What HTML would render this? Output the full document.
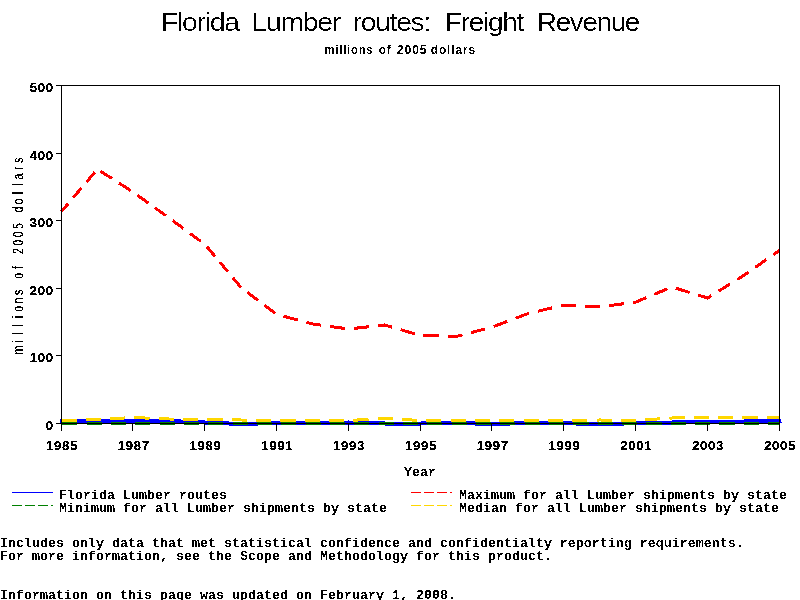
<!DOCTYPE html>
<html><head><meta charset="utf-8"><title>Florida Lumber routes: Freight Revenue</title>
<style>
html,body{margin:0;padding:0;background:#fff;width:800px;height:600px;overflow:hidden}
svg{display:block}
.mono{font-family:"Liberation Mono",monospace;font-size:13.333px;font-weight:bold;fill:#000}
.num{font-family:"Liberation Sans",sans-serif;font-size:13.1px;font-weight:bold;letter-spacing:0.72px;fill:#000;stroke:#000;stroke-width:0.2px}
.monor{font-family:"Liberation Mono",monospace;font-size:13.333px;fill:#000}
</style></head><body>
<svg width="800" height="600" viewBox="0 0 800 600">
<defs><filter id="crisp6" x="0" y="0" width="100%" height="100%" filterUnits="userSpaceOnUse"><feComponentTransfer><feFuncA type="discrete" tableValues="0 0 0 1 1 1"/></feComponentTransfer></filter><filter id="crisp7" x="0" y="0" width="100%" height="100%" filterUnits="userSpaceOnUse"><feComponentTransfer><feFuncA type="discrete" tableValues="0 0 0 1 1"/></feComponentTransfer></filter><filter id="crisp2" x="0" y="0" width="100%" height="100%" filterUnits="userSpaceOnUse"><feComponentTransfer><feFuncA type="discrete" tableValues="0 1 1"/></feComponentTransfer></filter><filter id="crisp" x="0" y="0" width="100%" height="100%" filterUnits="userSpaceOnUse"><feComponentTransfer><feFuncA type="discrete" tableValues="0 1"/></feComponentTransfer></filter></defs>
<rect width="800" height="600" fill="#fff"/>
<g filter="url(#crisp7)">
<text x="161.0" y="31" font-family="Liberation Sans, sans-serif" font-size="26.6" letter-spacing="-1.2" textLength="77.8" lengthAdjust="spacingAndGlyphs" fill="#000">Florida</text>
<text x="251.6" y="31" font-family="Liberation Sans, sans-serif" font-size="26.6" letter-spacing="-1.2" textLength="88.4" lengthAdjust="spacingAndGlyphs" fill="#000">Lumber</text>
<text x="352.6" y="31" font-family="Liberation Sans, sans-serif" font-size="26.6" letter-spacing="-1.2" textLength="77.4" lengthAdjust="spacingAndGlyphs" fill="#000">routes:</text>
<text x="445.0" y="31" font-family="Liberation Sans, sans-serif" font-size="26.6" letter-spacing="-1.2" textLength="78.0" lengthAdjust="spacingAndGlyphs" fill="#000">Freight</text>
<text x="537.0" y="31" font-family="Liberation Sans, sans-serif" font-size="26.6" letter-spacing="-1.2" textLength="102.0" lengthAdjust="spacingAndGlyphs" fill="#000">Revenue</text>
</g><g filter="url(#crisp)">
<text x="324.6" y="54" font-family="Liberation Sans, sans-serif" font-weight="bold" font-size="12" letter-spacing="0.9" textLength="48.7" lengthAdjust="spacingAndGlyphs" fill="#000">millions</text>
<text x="378.7" y="54" font-family="Liberation Sans, sans-serif" font-weight="bold" font-size="12" letter-spacing="0.9" textLength="12.7" lengthAdjust="spacingAndGlyphs" fill="#000">of</text>
<text x="396.8" y="54" font-family="Liberation Sans, sans-serif" font-weight="bold" font-size="12" letter-spacing="0.9" textLength="30.7" lengthAdjust="spacingAndGlyphs" fill="#000">2005</text>
<text x="430.8" y="54" font-family="Liberation Sans, sans-serif" font-weight="bold" font-size="12" letter-spacing="0.9" textLength="45.1" lengthAdjust="spacingAndGlyphs" fill="#000">dollars</text>
</g><g filter="url(#crisp2)">
<text font-family="Liberation Sans, sans-serif" font-size="14.5" fill="#000" text-anchor="middle" transform="translate(22.5,354) rotate(-90) scale(0.73,1)" x="5.21 16.53 27.86 39.19 50.52 61.85 73.18 84.51 95.84 107.16 118.49 129.82 141.15 152.48 163.81 175.14 186.47 197.79 209.12 220.45 231.78 243.11 254.44 265.77" y="0">millions of 2005 dollars</text>
</g>
<g shape-rendering="crispEdges" fill="none" stroke-width="3" stroke-linejoin="miter">
<path stroke="#0000ff" stroke-width="4" stroke-linecap="square" d="M61.50 421.00 L97.40 421.00 L133.30 421.50 L169.20 421.00 L205.10 422.50 L241.00 424.00 L276.90 423.00 L312.80 423.00 L348.70 422.50 L384.60 423.50 L420.50 423.50 L456.40 423.00 L492.30 424.00 L528.20 423.00 L564.10 423.00 L600.00 424.50 L635.90 423.00 L671.80 422.50 L707.70 422.00 L743.60 421.50 L779.50 421.00"/>
<path stroke="#008000" d="M62.20 423.50 L77.37 423.50M86.54 423.50 L97.40 423.50 L101.71 423.50M110.88 423.50 L126.05 423.50M135.22 423.50 L150.39 423.50M159.56 423.50 L169.20 423.50 L174.73 423.50M183.90 423.50 L199.07 423.50M208.24 423.50 L223.41 423.50M232.58 423.50 L241.00 423.50 L247.75 423.50M256.92 423.50 L272.09 423.50M281.26 423.50 L296.43 423.50M305.60 423.50 L312.80 423.50 L320.77 423.50M329.94 423.50 L345.11 423.50M354.28 423.50 L369.45 423.50M378.62 423.50 L384.60 423.50 L393.79 423.50M402.96 423.50 L418.13 423.50M427.30 423.50 L442.47 423.50M451.64 423.50 L456.40 423.50 L466.81 423.50M475.98 423.50 L491.15 423.50M500.32 423.50 L515.49 423.50M524.66 423.50 L528.20 423.50 L539.83 423.50M549.00 423.50 L564.10 423.50 L564.17 423.50M573.34 423.50 L588.51 423.50M597.68 423.50 L600.00 423.50 L612.85 423.50M622.02 423.50 L635.90 423.50 L637.19 423.50M646.36 423.50 L661.53 423.50M670.70 423.50 L671.80 423.50 L685.87 423.50M695.04 423.50 L707.70 423.50 L710.21 423.50M719.38 423.50 L734.55 423.50M743.72 423.50 L758.89 423.50M768.06 423.50 L779.50 423.50"/>
<path stroke="#ff0000" d="M61.50 211.50 L68.35 203.43M73.30 197.60 L81.51 187.92M86.46 182.09 L94.67 172.42M100.52 171.20 L112.06 178.63M119.02 183.11 L130.56 190.54M137.33 195.18 L148.34 203.07M154.98 207.82 L165.99 215.71M172.58 220.50 L183.44 228.51M189.98 233.34 L200.83 241.35M206.80 246.54 L214.92 256.26M219.81 262.12 L227.92 271.84M232.81 277.69 L240.93 287.42M247.39 292.30 L258.14 300.39M264.63 305.27 L275.38 313.36M283.49 316.24 L297.75 320.02M306.35 322.29 L312.80 324.00 L320.94 325.13M329.89 326.38 L344.75 328.45M353.73 328.44 L368.67 326.77M377.68 325.77 L384.60 325.00 L392.17 327.21M400.66 329.70 L414.76 333.82M423.46 335.58 L438.55 336.00M447.64 336.26 L456.40 336.50 L462.38 334.92M470.98 332.64 L485.25 328.87M493.77 326.45 L507.31 321.35M515.48 318.28 L528.20 313.50 L529.08 313.29M537.77 311.23 L552.19 307.82M560.88 305.76 L564.10 305.00 L575.80 305.65M584.88 306.16 L599.94 307.00M608.89 305.76 L623.74 303.69M632.70 302.45 L635.90 302.00 L646.29 297.66M654.27 294.32 L667.52 288.79M675.71 288.20 L689.73 292.49M698.17 295.08 L707.70 298.00 L711.44 295.66M718.47 291.25 L730.14 283.94M737.17 279.53 L743.60 275.50 L748.61 272.01M755.33 267.33 L766.49 259.56M773.21 254.88 L779.50 250.50"/>
<path stroke="#ffd700" d="M61.50 420.50 L76.66 420.08M85.82 419.82 L97.40 419.50 L100.98 419.30M110.12 418.79 L125.25 417.95M134.40 417.55 L149.55 418.18M158.70 418.56 L169.20 419.00 L173.86 419.06M183.02 419.19 L198.19 419.40M207.36 419.53 L222.53 419.74M231.70 419.87 L241.00 420.00 L246.86 420.08M256.03 420.21 L271.20 420.42M280.37 420.50 L295.54 420.50M304.71 420.50 L312.80 420.50 L319.88 420.50M329.05 420.50 L344.22 420.50M353.38 420.24 L368.51 419.40M377.65 418.89 L384.60 418.50 L392.78 418.96M401.93 419.47 L417.06 420.31M426.22 420.50 L441.39 420.50M450.56 420.50 L456.40 420.50 L465.73 420.37M474.89 420.24 L490.06 420.03M499.23 420.10 L514.40 420.31M523.57 420.44 L528.20 420.50 L538.74 420.50M547.91 420.50 L563.08 420.50M572.24 420.39 L587.41 420.18M596.58 420.05 L600.00 420.00 L611.75 420.16M620.92 420.29 L635.90 420.50 L636.08 420.49M645.22 419.85 L660.32 418.80M669.45 418.16 L671.80 418.00 L684.61 417.82M693.78 417.69 L707.70 417.50 L708.95 417.50M718.12 417.50 L733.29 417.50M742.46 417.50 L743.60 417.50 L757.63 417.50M766.80 417.50 L779.50 417.50"/>
</g>
<g stroke="#000" stroke-width="1" fill="none" shape-rendering="crispEdges">
<rect x="61.5" y="85.5" width="718" height="338"/>
<line x1="56" y1="423.5" x2="61" y2="423.5"/>
<line x1="56" y1="355.5" x2="61" y2="355.5"/>
<line x1="56" y1="288.5" x2="61" y2="288.5"/>
<line x1="56" y1="220.5" x2="61" y2="220.5"/>
<line x1="56" y1="153.5" x2="61" y2="153.5"/>
<line x1="56" y1="85.5" x2="61" y2="85.5"/>
<line x1="61.5" y1="423" x2="61.5" y2="431"/>
<line x1="132.5" y1="423" x2="132.5" y2="431"/>
<line x1="204.5" y1="423" x2="204.5" y2="431"/>
<line x1="276.5" y1="423" x2="276.5" y2="431"/>
<line x1="348.5" y1="423" x2="348.5" y2="431"/>
<line x1="420.5" y1="423" x2="420.5" y2="431"/>
<line x1="491.5" y1="423" x2="491.5" y2="431"/>
<line x1="563.5" y1="423" x2="563.5" y2="431"/>
<line x1="635.5" y1="423" x2="635.5" y2="431"/>
<line x1="707.5" y1="423" x2="707.5" y2="431"/>
<line x1="779.5" y1="423" x2="779.5" y2="431"/>
</g>
<g filter="url(#crisp)">
<text class="num" x="53.7" y="430" text-anchor="end">0</text>
<text class="num" x="53.7" y="362" text-anchor="end">100</text>
<text class="num" x="53.7" y="295" text-anchor="end">200</text>
<text class="num" x="53.7" y="227" text-anchor="end">300</text>
<text class="num" x="53.7" y="160" text-anchor="end">400</text>
<text class="num" x="53.7" y="92" text-anchor="end">500</text>
<text class="num" x="61.9" y="450" text-anchor="middle">1985</text>
<text class="num" x="133.7" y="450" text-anchor="middle">1987</text>
<text class="num" x="205.5" y="450" text-anchor="middle">1989</text>
<text class="num" x="277.3" y="450" text-anchor="middle">1991</text>
<text class="num" x="349.1" y="450" text-anchor="middle">1993</text>
<text class="num" x="420.9" y="450" text-anchor="middle">1995</text>
<text class="num" x="492.7" y="450" text-anchor="middle">1997</text>
<text class="num" x="564.5" y="450" text-anchor="middle">1999</text>
<text class="num" x="636.3" y="450" text-anchor="middle">2001</text>
<text class="num" x="708.1" y="450" text-anchor="middle">2003</text>
<text class="num" x="779.9" y="450" text-anchor="middle">2005</text>
</g><g filter="url(#crisp6)">
<text class="mono" x="420" y="476" text-anchor="middle">Year</text>
<text class="mono" x="59" y="499">Florida Lumber routes</text>
<text class="mono" x="59" y="512">Minimum for all Lumber shipments by state</text>
<text class="mono" x="459" y="499">Maximum for all Lumber shipments by state</text>
<text class="mono" x="459" y="512">Median for all Lumber shipments by state</text>
<text class="mono" x="0" y="547">Includes only data that met statistical confidence and confidentialty reporting requirements.</text>
<text class="mono" x="0" y="560">For more information, see the Scope and Methodology for this product.</text>
<text class="mono" x="0" y="599">Information on this page was updated on February 1, 2008.</text>
</g>
<g shape-rendering="crispEdges">
<line x1="12" y1="492.5" x2="53" y2="492.5" stroke="#0000ff" stroke-width="1"/>
<line x1="12" y1="505.5" x2="53" y2="505.5" stroke="#008000" stroke-width="1" stroke-dasharray="10 3"/>
<line x1="411" y1="492.5" x2="452" y2="492.5" stroke="#ff0000" stroke-width="1" stroke-dasharray="10 3"/>
<line x1="411" y1="505.5" x2="452" y2="505.5" stroke="#ffd700" stroke-width="1" stroke-dasharray="10 3"/>
</g>
</svg>
</body></html>
